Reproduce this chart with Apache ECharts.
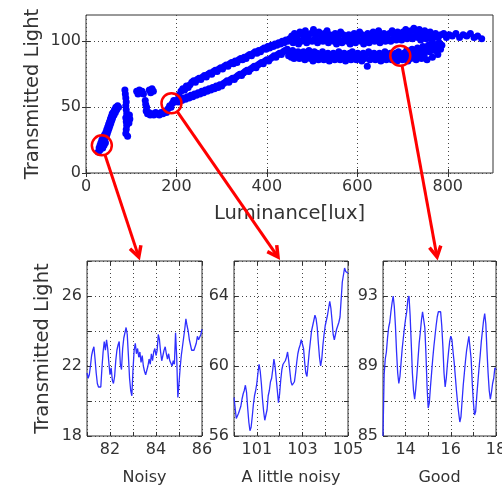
<!DOCTYPE html>
<html><head><meta charset="utf-8">
<script src="https://cdn.jsdelivr.net/npm/echarts@6/dist/echarts.min.js"></script>
<style>html,body{margin:0;padding:0;background:#fff}#c{width:502px;height:485px}</style>
</head><body><div id="c"></div>
<script>
// ---------- data ----------
const mainXTicks = [0, 200, 400, 600, 800];
const mainYTicks = [0, 50, 100];
const noisyXGrid = [81, 82, 83, 84, 85, 86];
const noisyXLabels = [82, 84, 86];
const noisyYGrid = [18, 20, 22, 24, 26, 28];
const noisyYLabels = [18, 22, 26];
const littleXGrid = [100, 101, 102, 103, 104, 105];
const littleXLabels = [101, 103, 105];
const littleYGrid = [56, 58, 60, 62, 64, 66];
const littleYLabels = [56, 60, 64];
const goodXGrid = [13, 14, 15, 16, 17, 18];
const goodXLabels = [14, 16, 18];
const goodYGrid = [85, 87, 89, 91, 93, 95];
const goodYLabels = [85, 89, 93];

const mainPoints = [
// lower-left strand
[27,16],[29,19],[30,17],[31,21],[32,18],[33,23],[34,20],[35,25],[36,22],[37,19],[38,27],[39,24],[40,21],[41,29],[42,26],[43,23],[44,31],[45,28],[46,33],[47,30],[48,35],[49,32],[50,37],[51,34],[52,39],[53,36],[54,41],[55,38],[56,43],[57,40],[58,45],[59,42],[60,46],[62,44],[63,48],[65,46],[66,50],[68,48],[70,51],[72,50],
// vertical column
[87,60],[88,57],[89,54],[88,51],[89,48],[90,45],[88,42],[89,39],[90,36],[89,33],[88,30],[92,28],[96,44],[97,41],[95,38],[86,63],
// small cluster
[112,62],[115,60],[118,63],[121,61],[124,62],[127,60],[140,63],[143,61],[146,64],[149,62],
// curve and flat part
[131,55],[132,52],[134,50],[133,47],[136,45],[139,46],[142,44],[146,45],[150,44],[154,46],[158,45],[162,44],[166,46],[170,45],[174,47],[178,46],[182,49],[185,51],[188,50],[191,53],[194,55],
// lower rising strand
[196,54],[200,55],[204,54],[208,56],[212,55],[216,57],[220,56],[224,58],[228,57],[232,59],[236,58],[240,60],[244,59],[248,61],[252,60],[256,62],[260,61],[264,63],[268,62],[272,64],[276,63],[280,65],[284,64],[288,66],[292,65],[296,67],[300,66],[304,68],[308,69],[312,70],[316,69],[320,71],[324,72],[328,71],[332,73],[336,74],[340,75],[344,74],[348,76],[352,77],[356,78],[360,77],[364,79],[368,80],[372,81],[376,80],[380,82],[384,83],[388,84],[392,83],[396,85],[400,86],[404,85],[408,87],[412,88],[416,89],[420,88],[424,90],[428,91],[432,90],[436,92],[440,93],
// upper rising strand
[205,59],[210,62],[214,64],[218,63],[222,66],[226,65],[230,67],[234,69],[238,70],[242,69],[246,71],[250,72],[254,71],[258,73],[262,74],[266,73],[270,75],[274,76],[278,75],[282,77],[286,78],[290,77],[294,79],[298,80],[302,79],[306,81],[310,82],[314,81],[318,83],[322,84],[326,83],[330,85],[334,84],[338,86],[342,87],[346,86],[350,88],[354,87],[358,89],[362,90],[366,89],[370,91],[374,92],[378,91],[382,93],[386,92],[390,94],[394,95],[398,94],[402,96],[406,95],[410,97],[414,96],[418,98],[422,97],[426,99],[430,98],[434,100],[438,99],[442,101],[446,100],[450,102],
// upper band
[455,104],[461,106],[467,103],[473,107],[479,105],[485,108],[491,104],[497,106],[503,109],[509,105],[515,107],[521,104],[527,106],[533,108],[539,105],[545,103],[551,106],[557,104],[563,107],[569,105],[575,102],[581,105],[587,103],[593,106],[599,104],[605,107],[611,105],[617,103],[623,106],[629,104],[635,107],[641,105],[647,108],[653,104],[659,106],[665,103],[671,106],[677,108],[683,105],[689,107],[695,104],[701,107],[707,109],[713,106],[719,108],[725,110],[731,107],[737,109],[743,106],[749,108],[755,105],[761,107],[767,104],[773,106],[779,103],[785,105],[791,106],[797,103],[803,105],[810,104],[818,106],[826,103],[834,105],[842,104],[850,106],[858,103],[866,104],[875,102],
[458,99],[464,101],[470,98],[476,100],[482,102],[488,99],[494,101],[500,100],[506,102],[512,99],[518,101],[524,100],[530,102],[536,99],[542,101],[548,100],[554,98],[560,101],[566,99],[572,101],[578,100],[584,98],[590,101],[596,99],[602,101],[608,100],[614,98],[620,101],[626,99],[632,101],[638,100],[644,102],[650,99],[656,101],[662,100],[668,102],[674,100],[680,102],[686,101],[692,103],[698,101],[704,103],[710,102],[716,104],[722,102],[728,104],[734,103],[740,101],[746,103],[752,102],[758,104],[764,101],[770,103],
// lower band
[445,94],[451,92],[457,93],[463,91],[469,92],[475,90],[481,92],[487,91],[493,93],[499,90],[505,92],[511,91],[517,89],[523,92],[529,90],[535,91],[541,89],[547,91],[553,90],[559,92],[565,90],[571,91],[577,89],[583,91],[589,92],[595,90],[601,91],[607,89],[613,91],[619,90],[625,92],[631,90],[637,91],[643,89],[649,91],[655,90],[661,92],[667,90],[673,91],[679,89],[685,91],[691,92],[697,90],[703,91],[709,93],[715,91],[721,94],[727,92],[733,95],[739,93],[745,96],[751,94],[757,97],[763,95],[769,98],[775,96],[781,99],[787,97],
[448,89],[454,88],[460,87],[466,89],[472,87],[478,88],[484,86],[490,88],[496,87],[502,85],[508,87],[514,86],[520,88],[526,86],[532,87],[538,85],[544,87],[550,86],[556,88],[562,86],[568,87],[574,85],[580,87],[586,86],[592,88],[598,86],[604,87],[610,85],[616,87],[622,81],[628,86],[634,88],[640,86],[646,87],[652,85],[658,87],[664,86],[670,88],[676,86],[682,87],[688,85],[694,87],[700,86],[706,88],[712,85],[718,87],[724,88],[730,86],[736,89],[742,87],[748,90],[754,86],[760,92],[766,88],[772,93],[778,90],[784,94]
];

const noisy = [[81.00,21.6],[81.05,21.3],[81.10,21.5],[81.15,22.0],[81.20,22.6],[81.25,22.9],[81.30,23.1],[81.35,22.4],[81.40,21.6],[81.45,21.0],[81.50,20.8],[81.55,20.7],[81.60,20.8],[81.65,21.9],[81.70,22.8],[81.75,23.4],[81.80,22.9],[81.85,23.5],[81.90,23.0],[81.95,22.2],[82.00,21.5],[82.05,21.9],[82.10,21.2],[82.15,21.0],[82.20,21.4],[82.25,22.3],[82.30,22.9],[82.35,23.2],[82.40,23.4],[82.45,22.1],[82.50,21.8],[82.55,23.0],[82.60,23.6],[82.65,23.9],[82.70,24.2],[82.75,23.8],[82.80,22.6],[82.85,21.3],[82.90,20.6],[82.95,20.3],[83.00,21.8],[83.05,22.9],[83.10,23.3],[83.15,22.7],[83.20,23.0],[83.25,22.5],[83.30,22.8],[83.35,22.2],[83.40,22.6],[83.45,22.0],[83.50,21.7],[83.55,21.5],[83.60,21.6],[83.65,22.0],[83.70,22.4],[83.75,22.1],[83.80,22.7],[83.85,22.3],[83.90,22.8],[83.95,23.0],[84.00,22.6],[84.05,22.9],[84.10,23.8],[84.15,23.5],[84.20,22.8],[84.25,22.3],[84.30,22.6],[84.35,22.9],[84.40,23.1],[84.45,22.7],[84.50,22.4],[84.55,22.7],[84.60,22.3],[84.65,22.2],[84.70,22.0],[84.75,22.3],[84.80,22.1],[84.85,23.9],[84.90,22.5],[84.95,20.2],[85.00,21.0],[85.05,21.9],[85.10,22.6],[85.15,23.1],[85.20,23.6],[85.25,24.1],[85.30,24.7],[85.35,24.3],[85.40,24.0],[85.45,23.5],[85.50,23.6],[85.55,22.9],[85.60,22.8],[85.65,22.9],[85.70,23.0],[85.75,23.3],[85.80,23.7],[85.85,23.5],[85.90,23.4],[85.95,23.8],[86.00,24.1]];

const littleNoisy = [[100.00,58.2],[100.05,57.6],[100.10,57.0],[100.15,56.9],[100.20,57.3],[100.25,57.5],[100.30,57.7],[100.35,58.1],[100.40,58.4],[100.45,58.6],[100.50,58.9],[100.55,58.5],[100.60,57.6],[100.65,56.8],[100.70,56.3],[100.75,56.5],[100.80,57.1],[100.85,57.8],[100.90,58.3],[100.95,58.6],[101.00,59.0],[101.05,59.6],[101.10,60.1],[101.15,59.7],[101.20,59.0],[101.25,58.1],[101.30,57.4],[101.35,56.9],[101.40,56.8],[101.45,57.5],[101.50,58.3],[101.55,58.6],[101.60,59.1],[101.65,59.3],[101.70,59.8],[101.75,60.4],[101.80,60.0],[101.85,59.3],[101.90,58.6],[101.95,57.9],[102.00,58.4],[102.05,59.2],[102.10,59.8],[102.15,60.1],[102.20,60.0],[102.25,60.3],[102.30,60.5],[102.35,60.8],[102.40,60.3],[102.45,59.7],[102.50,59.1],[102.55,58.9],[102.60,58.8],[102.65,59.1],[102.70,59.6],[102.75,60.2],[102.80,60.7],[102.85,61.0],[102.90,61.2],[102.95,61.5],[103.00,61.6],[103.05,61.0],[103.10,60.2],[103.15,59.6],[103.20,59.4],[103.25,60.1],[103.30,60.8],[103.35,61.4],[103.40,62.0],[103.45,62.3],[103.50,62.6],[103.55,62.9],[103.60,62.7],[103.65,62.2],[103.70,61.3],[103.75,60.5],[103.80,60.0],[103.85,60.4],[103.90,61.2],[103.95,61.8],[104.00,62.3],[104.05,62.6],[104.10,62.9],[104.15,63.3],[104.20,63.7],[104.25,63.3],[104.30,62.6],[104.35,61.8],[104.40,61.5],[104.45,61.8],[104.50,62.1],[104.55,62.3],[104.60,62.5],[104.65,62.8],[104.70,63.8],[104.75,64.8],[104.80,65.2],[104.85,65.6],[104.90,65.4],[104.95,65.5],[105.00,65.3]];

const good = [[13.00,85.0],[13.05,88.5],[13.10,89.4],[13.15,89.8],[13.20,90.6],[13.25,91.2],[13.30,91.5],[13.35,92.1],[13.40,92.6],[13.45,93.0],[13.50,92.4],[13.55,91.3],[13.60,89.8],[13.65,88.6],[13.70,88.0],[13.75,88.4],[13.80,89.2],[13.85,90.0],[13.90,90.6],[13.95,91.2],[14.00,91.7],[14.05,92.1],[14.10,92.8],[14.15,93.0],[14.20,91.9],[14.25,90.3],[14.30,88.6],[14.35,87.6],[14.40,87.1],[14.45,87.7],[14.50,88.5],[14.55,89.4],[14.60,90.3],[14.65,90.9],[14.70,91.6],[14.75,92.1],[14.80,92.0],[14.85,91.2],[14.90,89.7],[14.95,87.8],[15.00,86.6],[15.05,86.9],[15.10,87.8],[15.15,88.6],[15.20,89.4],[15.25,90.1],[15.30,90.7],[15.35,91.3],[15.40,91.8],[15.45,92.1],[15.50,92.2],[15.55,92.1],[15.60,91.3],[15.65,90.1],[15.70,88.6],[15.75,87.8],[15.80,88.3],[15.85,89.1],[15.90,89.8],[15.95,90.4],[16.00,90.7],[16.05,90.5],[16.10,89.8],[16.15,89.2],[16.20,88.4],[16.25,87.6],[16.30,86.9],[16.35,86.3],[16.40,85.8],[16.45,86.1],[16.50,87.0],[16.55,87.9],[16.60,88.6],[16.65,89.3],[16.70,89.9],[16.75,90.3],[16.80,90.7],[16.85,90.6],[16.90,89.4],[16.95,88.0],[17.00,86.9],[17.05,86.2],[17.10,86.4],[17.15,87.3],[17.20,88.1],[17.25,88.9],[17.30,89.6],[17.35,90.4],[17.40,91.0],[17.45,91.6],[17.50,92.0],[17.55,91.4],[17.60,89.9],[17.65,88.6],[17.70,87.6],[17.75,87.1],[17.80,87.5],[17.85,88.0],[17.90,88.3],[17.95,88.9],[18.00,88.8]];

// highlighted samples on the main plot, and where each arrow lands on its panel
const circleMarks = [[35, 21], [189, 53], [695, 89]];
const arrowAnchors = [[83.25, 28], [101.93, 66], [15.39, 95]];

// ---------- chart ----------
const FONT = 'DejaVu Sans';
const TXT = '#333';
const chart = echarts.init(document.getElementById('c'), null, {renderer: 'canvas'});

function grid(left, top, width, height) {
  return {left, top, width, height, show: true, borderColor: '#333', borderWidth: 1,
          backgroundColor: 'transparent', containLabel: false, outerBoundsMode: 'none'};
}
const dotted = {show: true, lineStyle: {type: [1, 3], color: '#444', width: 1}};
function axisPair(dim, gi, min, max, gridVals, labelVals, name, nameGap, nameSize) {
  const mainPos = dim === 'x' ? 'bottom' : 'left';
  const mirrorPos = dim === 'x' ? 'top' : 'right';
  const a = {
    type: 'value', gridIndex: gi, min, max, position: mainPos,
    axisLine: {show: false},
    axisTick: {show: true, inside: true, length: 4, customValues: gridVals, lineStyle: {color: '#333'}},
    axisLabel: {customValues: labelVals, margin: dim === 'x' ? 6 : 5, color: TXT, fontSize: 16, fontFamily: FONT},
    splitLine: dotted,
    name, nameLocation: 'middle', nameGap, nameMoveOverlap: false,
    nameTextStyle: {color: TXT, fontSize: nameSize, fontFamily: FONT}
  };
  const b = {
    type: 'value', gridIndex: gi, min, max, position: mirrorPos,
    axisLine: {show: false}, axisLabel: {show: false}, splitLine: {show: false},
    axisTick: {show: true, inside: true, length: 4, customValues: gridVals, lineStyle: {color: '#333'}}
  };
  return [a, b];
}

const xAxes = [
  ...axisPair('x', 0, 0, 900, mainXTicks, mainXTicks, 'Luminance[lux]', 31, 19.5),
  ...axisPair('x', 1, 81, 86, noisyXGrid, noisyXLabels, 'Noisy', 34, 16),
  ...axisPair('x', 2, 100, 105, littleXGrid, littleXLabels, 'A little noisy', 34, 16),
  ...axisPair('x', 3, 13, 18, goodXGrid, goodXLabels, 'Good', 34, 16)
];
const yAxes = [
  ...axisPair('y', 0, 0, 120, mainYTicks, mainYTicks, 'Transmitted Light', 43, 19.5),
  ...axisPair('y', 1, 18, 28, noisyYGrid, noisyYLabels, 'Transmitted Light', 34, 19.5),
  ...axisPair('y', 2, 56, 66, littleYGrid, littleYLabels, '', 30, 16),
  ...axisPair('y', 3, 85, 95, goodYGrid, goodYLabels, '', 30, 16)
];

const lineStyle = {color: '#2f2fff', width: 1.3};
chart.setOption({
  animation: false,
  backgroundColor: '#fff',
  grid: [grid(86, 15, 407, 158), grid(87, 261, 115, 175), grid(234, 261, 114, 175), grid(383, 261, 113, 175)],
  xAxis: xAxes,
  yAxis: yAxes,
  series: [
    {type: 'scatter', xAxisIndex: 0, yAxisIndex: 0, data: mainPoints, symbol: 'circle', symbolSize: 7,
     itemStyle: {color: '#0000ff', opacity: 1}, silent: true},
    {type: 'line', xAxisIndex: 2, yAxisIndex: 2, data: noisy, showSymbol: false, lineStyle, silent: true},
    {type: 'line', xAxisIndex: 4, yAxisIndex: 4, data: littleNoisy, showSymbol: false, lineStyle, silent: true},
    {type: 'line', xAxisIndex: 6, yAxisIndex: 6, data: good, showSymbol: false, lineStyle, silent: true}
  ]
});

// red annotation circles and arrows, placed through the axes
const RED = '#ff0000';
const R = 10;
const graphics = [];
circleMarks.forEach((p, i) => {
  const c = chart.convertToPixel({xAxisIndex: 0, yAxisIndex: 0}, p);
  const t0 = chart.convertToPixel({xAxisIndex: 2 + 2 * i, yAxisIndex: 2 + 2 * i}, arrowAnchors[i]);
  const tip = [t0[0], t0[1] - 4];
  const dx = tip[0] - c[0], dy = tip[1] - c[1];
  const len = Math.sqrt(dx * dx + dy * dy);
  const ux = dx / len, uy = dy / len;
  const start = [c[0] + ux * R, c[1] + uy * R];
  const end = [tip[0] - ux * 3, tip[1] - uy * 3];
  graphics.push({type: 'circle', shape: {cx: c[0], cy: c[1], r: R}, style: {fill: 'none', stroke: RED, lineWidth: 2.5}, z: 100});
  graphics.push({type: 'line', shape: {x1: start[0], y1: start[1], x2: end[0], y2: end[1]}, style: {stroke: RED, lineWidth: 3}, z: 100});
  const ang = 0.5, L = 12;
  const ca = Math.cos(ang), sa = Math.sin(ang);
  const bx = -ux, by = -uy;
  const a1 = [tip[0] + L * (bx * ca - by * sa), tip[1] + L * (bx * sa + by * ca)];
  const a2 = [tip[0] + L * (bx * ca + by * sa), tip[1] + L * (-bx * sa + by * ca)];
  graphics.push({type: 'polyline', shape: {points: [a1, tip, a2]}, style: {stroke: RED, lineWidth: 3.5, fill: 'none', lineJoin: 'miter'}, z: 100});
});
chart.setOption({graphic: graphics});
</script></body></html>
